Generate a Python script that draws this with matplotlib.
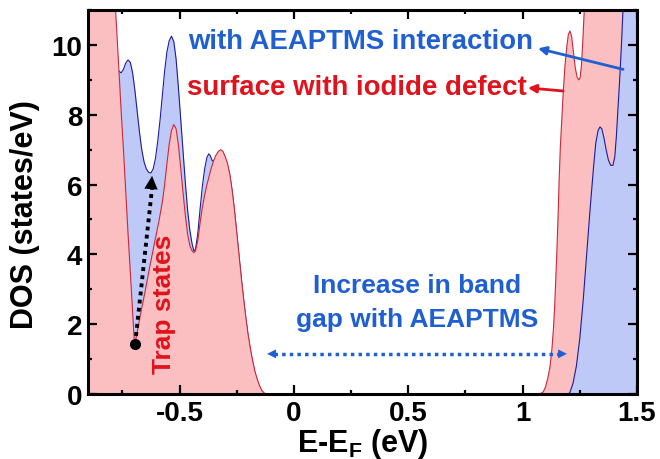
import matplotlib
matplotlib.use("Agg")
import matplotlib.pyplot as plt
from matplotlib.ticker import MultipleLocator

# DOS curves (states/eV) vs E-E_F (eV), valence side and conduction side
red_left_x = [-0.90, -0.82, -0.785, -0.775, -0.765, -0.755, -0.745, -0.735, -0.725,
              -0.715, -0.705, -0.697, -0.69, -0.68, -0.67, -0.65, -0.63, -0.61,
              -0.59, -0.575, -0.565, -0.555, -0.545, -0.535, -0.525, -0.515, -0.505,
              -0.495, -0.485, -0.475, -0.465, -0.455, -0.445, -0.437, -0.43, -0.42,
              -0.41, -0.40, -0.39, -0.38, -0.37, -0.36, -0.35, -0.34, -0.33, -0.32,
              -0.31, -0.30, -0.29, -0.28, -0.27, -0.26, -0.25, -0.24, -0.23, -0.22,
              -0.21, -0.20, -0.19, -0.18, -0.17, -0.16, -0.15, -0.14, -0.13, -0.12]
red_left_y = [14.0, 13.0, 11.6, 10.5, 9.3, 8.1, 7.0, 5.8, 4.6,
              3.5, 2.35, 1.45, 1.6, 1.95, 2.3, 2.95, 3.65, 4.3,
              4.95, 5.5, 6.0, 6.6, 7.15, 7.55, 7.72, 7.6, 7.15,
              6.5, 5.8, 5.15, 4.6, 4.25, 4.1, 4.05, 4.1, 4.4,
              4.9, 5.35, 5.7, 6.0, 6.25, 6.5, 6.7, 6.85, 6.95, 7.0,
              6.95, 6.8, 6.6, 6.3, 5.85, 5.3, 4.65, 4.0, 3.35, 2.75,
              2.2, 1.7, 1.3, 0.95, 0.65, 0.42, 0.24, 0.1, 0.03, 0.0]

red_right_x = [1.07, 1.08, 1.09, 1.10, 1.11, 1.12, 1.128, 1.135, 1.14, 1.145, 1.15,
               1.155, 1.16, 1.165, 1.17, 1.177, 1.185, 1.193, 1.20, 1.207, 1.214,
               1.222, 1.23, 1.238, 1.245, 1.251, 1.257, 1.263, 1.268, 1.273, 1.28,
               1.30, 1.50]
red_right_y = [0.0, 0.02, 0.06, 0.2, 0.45, 0.8, 1.29, 1.9, 2.5, 3.3, 4.15,
               5.1, 6.2, 7.1, 7.7, 8.6, 9.4, 9.95, 10.3, 10.4, 10.25,
               9.8, 9.35, 9.08, 9.0, 9.05, 9.4, 10.1, 10.8, 11.5, 12.5,
               14.0, 14.0]

blue_left_x = [-0.90, -0.85, -0.80, -0.785, -0.775, -0.765, -0.755, -0.745, -0.735,
               -0.725, -0.715, -0.705, -0.695, -0.685, -0.675, -0.665, -0.655, -0.645,
               -0.635, -0.625, -0.615, -0.605, -0.595, -0.585, -0.575, -0.565, -0.555,
               -0.545, -0.535, -0.525, -0.515, -0.505, -0.495, -0.485, -0.475, -0.465,
               -0.455, -0.445, -0.437, -0.43, -0.42, -0.41, -0.40, -0.39, -0.38, -0.372,
               -0.365, -0.358, -0.35, -0.34, -0.33, -0.32, -0.31, -0.30, -0.29, -0.28,
               -0.27, -0.26, -0.25, -0.24, -0.23, -0.22, -0.21, -0.20, -0.19, -0.18,
               -0.17, -0.16, -0.15, -0.14, -0.13, -0.12]
blue_left_y = [12.0, 11.0, 10.0, 9.55, 9.35, 9.25, 9.2, 9.3, 9.48,
               9.57, 9.5, 9.2, 8.7, 8.1, 7.5, 7.0, 6.65, 6.45,
               6.35, 6.33, 6.45, 6.75, 7.25, 7.85, 8.55, 9.25, 9.8,
               10.12, 10.25, 10.1, 9.6, 8.8, 7.9, 7.0, 6.1, 5.3,
               4.7, 4.3, 4.1, 4.15, 4.6, 5.3, 5.95, 6.45, 6.78, 6.88,
               6.82, 6.7, 6.65, 6.8, 6.9, 6.95, 6.9, 6.75, 6.55, 6.25,
               5.8, 5.25, 4.6, 3.95, 3.3, 2.7, 2.15, 1.65, 1.25, 0.9,
               0.6, 0.38, 0.2, 0.08, 0.02, 0.0]

blue_right_x = [1.20, 1.207, 1.22, 1.235, 1.25, 1.265, 1.28, 1.295, 1.31, 1.32,
                1.33, 1.338, 1.346, 1.355, 1.365, 1.375, 1.385, 1.395, 1.403, 1.41,
                1.417, 1.425, 1.432, 1.44, 1.45, 1.50]
blue_right_y = [0.0, 0.05, 0.3, 0.8, 1.6, 2.7, 4.0, 5.3, 6.5, 7.2,
                7.55, 7.65, 7.6, 7.35, 7.0, 6.7, 6.55, 6.55, 6.8, 7.4,
                8.2, 9.1, 10.0, 11.2, 12.5, 14.0]

x_ticks = [-0.5, 0, 0.5, 1, 1.5]
x_ticklabels = ["-0.5", "0", "0.5", "1", "1.5"]
y_ticks = [0, 2, 4, 6, 8, 10]

# trap-state arrow (from the defect minimum up to the passivated minimum)
trap_start = (-0.694, 1.43)
trap_end = (-0.62, 6.25)
# band-gap arrow ends
gap_left = -0.117
gap_right = 1.194
gap_level = 1.15

RED_FILL = "#fbbfc1"
RED_EDGE = "#c8283c"
BLUE_FILL = "#bfc9f7"
BLUE_EDGE = "#1c1c9c"
RED_TXT = "#e0121c"
BLUE_TXT = "#1f5fd2"

plt.rcParams["font.family"] = "Liberation Sans"
plt.rcParams["font.weight"] = "bold"
plt.rcParams["mathtext.fontset"] = "custom"
plt.rcParams["mathtext.rm"] = "Liberation Sans:bold"
plt.rcParams["mathtext.bf"] = "Liberation Sans:bold"

fig = plt.figure(figsize=(6.6, 4.6), dpi=100)
ax = fig.add_axes([88 / 660, 1 - 395 / 460, (637 - 88) / 660, (395 - 11) / 460])

# valence side: defect surface drawn over the AEAPTMS curve
ax.fill_between(blue_left_x, 0, blue_left_y, color=BLUE_FILL, lw=0, zorder=1)
ax.plot(blue_left_x, blue_left_y, color=BLUE_EDGE, lw=0.8, zorder=1.1)
ax.fill_between(red_left_x, 0, red_left_y, color=RED_FILL, lw=0, zorder=1.2)
ax.plot(red_left_x, red_left_y, color=RED_EDGE, lw=0.8, zorder=1.3)

# conduction side: AEAPTMS curve on top
ax.fill_between(red_right_x, 0, red_right_y, color=RED_FILL, lw=0, zorder=1)
ax.plot(red_right_x, red_right_y, color=RED_EDGE, lw=0.8, zorder=1.1)
ax.fill_between(blue_right_x, 0, blue_right_y, color=BLUE_FILL, lw=0, zorder=1.2)
ax.plot(blue_right_x, blue_right_y, color=BLUE_EDGE, lw=0.8, zorder=1.3)

ax.set_xlim(-0.9, 1.5)
ax.set_ylim(0, 11)
ax.set_xticks(x_ticks)
ax.set_xticklabels(x_ticklabels)
ax.set_yticks(y_ticks)
ax.xaxis.set_minor_locator(MultipleLocator(0.25))
ax.yaxis.set_minor_locator(MultipleLocator(1))
ax.tick_params(which="both", direction="in", top=True, right=True,
               labelsize=20, width=1.6, pad=4)
ax.tick_params(which="major", length=6.5)
ax.tick_params(which="minor", length=3)
for sp in ax.spines.values():
    sp.set_linewidth(2.2)
    sp.set_zorder(5)

ax.set_xlabel(r"E-E$_{\mathrm{F}}$ (eV)", fontsize=22, fontweight="bold", labelpad=0)
ax.set_ylabel("DOS (states/eV)", fontsize=22, fontweight="bold")
ax.yaxis.set_label_coords(-0.087, 0.47)

# legend-like labels with pointer arrows
ax.text(-0.463, 9.91, "with AEAPTMS interaction", color=BLUE_TXT, fontsize=19.8,
        fontweight="bold", ha="left", va="baseline", zorder=6)
ax.annotate("", xy=(1.067, 9.9), xytext=(1.439, 9.3),
            arrowprops=dict(arrowstyle="-|>", color=BLUE_TXT, lw=2,
                            mutation_scale=12, shrinkA=0, shrinkB=0), zorder=6)
ax.text(-0.467, 8.6, "surface with iodide defect", color=RED_TXT, fontsize=19.9,
        fontweight="bold", ha="left", va="baseline", zorder=6)
ax.annotate("", xy=(1.023, 8.77), xytext=(1.177, 8.68),
            arrowprops=dict(arrowstyle="-|>", color=RED_TXT, lw=2,
                            mutation_scale=12, shrinkA=0, shrinkB=0), zorder=6)

# trap states arrow
ax.plot([trap_start[0], trap_end[0]], [trap_start[1], trap_end[1] - 0.35],
        color="k", lw=2.8, ls=(0, (1, 1.1)), zorder=6)
ax.annotate("", xy=trap_end, xytext=(trap_end[0] - 0.006, trap_end[1] - 0.5),
            arrowprops=dict(arrowstyle="-|>", color="k", lw=0,
                            mutation_scale=24, shrinkA=0, shrinkB=0), zorder=6)
ax.plot(*trap_start, "o", color="k", ms=7, zorder=7)
ax.text(-0.567, 2.6, "Trap states", color=RED_TXT, fontsize=19, fontweight="bold",
        rotation=90, ha="center", va="center", zorder=6)

# band gap arrow and label
ax.plot([gap_left + 0.03, gap_right - 0.03], [gap_level, gap_level],
        color=BLUE_TXT, lw=2.5, ls=(0, (1, 1.2)), zorder=6)
for tip, back in [(gap_left, gap_left + 0.04), (gap_right, gap_right - 0.04)]:
    ax.annotate("", xy=(tip, gap_level), xytext=(back, gap_level),
                arrowprops=dict(arrowstyle="-|>", color=BLUE_TXT, lw=0,
                                mutation_scale=16, shrinkA=0, shrinkB=0), zorder=6)
ax.text(0.538, 2.92, "Increase in band", color=BLUE_TXT, fontsize=19,
        fontweight="bold", ha="center", va="baseline", zorder=6)
ax.text(0.538, 1.95, "gap with AEAPTMS", color=BLUE_TXT, fontsize=19,
        fontweight="bold", ha="center", va="baseline", zorder=6)

fig.savefig("out.png", dpi=100)
